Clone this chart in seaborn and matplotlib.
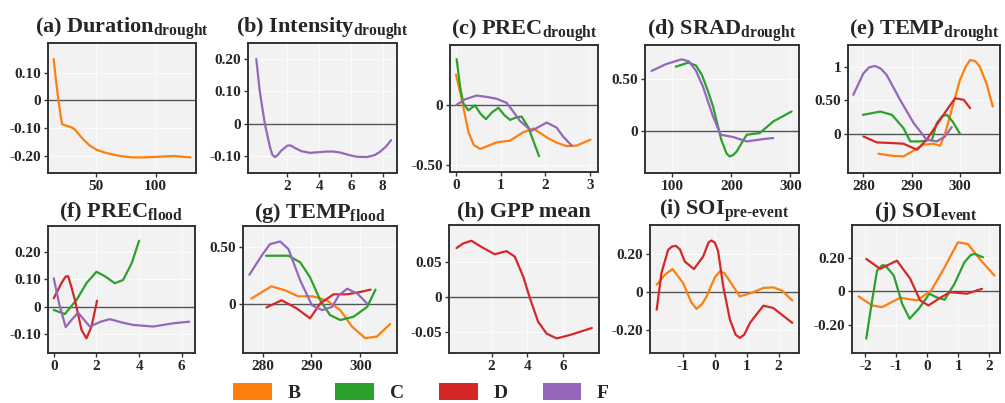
import matplotlib
matplotlib.use("Agg")
import matplotlib.pyplot as plt
from matplotlib.patches import Patch
import seaborn as sns

# ---- data (x, y per class) ----
# (a) Duration drought
dur_B_x = [15, 17, 19, 21, 22, 26, 30, 33, 36, 40, 45, 51, 57, 65, 72, 81, 90, 101, 115, 129]
dur_B_y = [0.148, 0.07, 0.0, -0.06, -0.085, -0.092, -0.097, -0.106, -0.122, -0.142, -0.162, -0.178, -0.187, -0.195, -0.201, -0.205, -0.205, -0.203, -0.200, -0.205]

# (b) Intensity drought
int_F_x = [0.05, 0.27, 0.59, 0.9, 1.05, 1.22, 1.4, 1.6, 2.0, 2.2, 2.48, 2.9, 3.43, 4.0, 4.48, 4.9, 5.33, 5.9, 6.38, 7.0, 7.5, 7.85, 8.2, 8.53]
int_F_y = [0.20, 0.10, 0.0, -0.069, -0.094, -0.102, -0.096, -0.083, -0.067, -0.066, -0.074, -0.084, -0.089, -0.087, -0.085, -0.085, -0.088, -0.096, -0.101, -0.102, -0.096, -0.085, -0.07, -0.05]

# (c) PREC drought
precd_B_x = [0.0, 0.13, 0.28, 0.4, 0.54, 0.7, 0.91, 1.21, 1.5, 1.73, 2.03, 2.25, 2.48, 2.7, 3.01]
precd_B_y = [0.256, 0.05, -0.225, -0.33, -0.363, -0.34, -0.308, -0.294, -0.225, -0.192, -0.266, -0.31, -0.34, -0.335, -0.286]
precd_C_x = [0.015, 0.09, 0.16, 0.275, 0.425, 0.55, 0.67, 0.8, 0.95, 1.08, 1.21, 1.35, 1.47, 1.62, 1.86]
precd_C_y = [0.385, 0.16, 0.02, -0.041, 0.0, -0.07, -0.115, -0.06, -0.02, -0.08, -0.121, -0.1, -0.093, -0.184, -0.423]
precd_F_x = [0.015, 0.2, 0.46, 0.7, 0.91, 1.13, 1.3, 1.43, 1.69, 1.85, 2.03, 2.25, 2.4, 2.59]
precd_F_y = [0.005, 0.05, 0.082, 0.07, 0.055, 0.022, -0.06, -0.129, -0.212, -0.18, -0.143, -0.184, -0.26, -0.335]

# (d) SRAD drought
srad_C_x = [106, 127, 140, 150, 160, 169, 183, 192, 197, 203, 209, 226, 248, 271, 302]
srad_C_y = [0.618, 0.657, 0.63, 0.54, 0.39, 0.234, -0.087, -0.22, -0.247, -0.235, -0.199, -0.038, -0.022, 0.09, 0.186]
srad_F_x = [65, 90, 116, 128, 140, 152, 169, 182, 203, 226, 254, 271]
srad_F_y = [0.577, 0.644, 0.689, 0.67, 0.58, 0.426, 0.138, -0.038, -0.06, -0.103, -0.08, -0.07]

# (e) TEMP drought
tempd_B_x = [283.1, 285.9, 288.3, 290.7, 292.4, 294.5, 295.9, 297.0, 297.9, 300.0, 301.2, 302.1, 303.2, 304.1, 305.5, 306.8]
tempd_B_y = [-0.297, -0.327, -0.337, -0.238, -0.163, -0.148, -0.178, 0.02, 0.257, 0.802, 1.0, 1.099, 1.08, 1.0, 0.75, 0.406]
tempd_C_x = [279.9, 283.5, 285.9, 288.3, 289.7, 291.7, 294.2, 295.2, 296.3, 297.3, 298.5, 300.0]
tempd_C_y = [0.282, 0.331, 0.282, 0.084, -0.114, -0.114, -0.089, 0.159, 0.26, 0.282, 0.18, 0.0]
tempd_D_x = [280.0, 282.8, 285.9, 288.3, 291.1, 293.1, 295.2, 297.3, 299.0, 300.8, 302.1]
tempd_D_y = [-0.04, -0.129, -0.138, -0.148, -0.238, -0.089, 0.134, 0.357, 0.53, 0.505, 0.382]
tempd_F_x = [277.9, 280.0, 281.2, 282.4, 283.6, 284.8, 287.6, 290.4, 293.1, 295.2, 296.9, 298.3]
tempd_F_y = [0.58, 0.9, 0.99, 1.01, 0.97, 0.877, 0.505, 0.16, -0.089, -0.114, -0.04, 0.1]

# (f) PREC flood
precf_C_x = [0.0, 0.52, 1.07, 1.53, 2.0, 2.39, 2.86, 3.25, 3.65, 4.0]
precf_C_y = [-0.012, -0.027, 0.025, 0.086, 0.128, 0.112, 0.086, 0.098, 0.159, 0.242]
precf_D_x = [0.0, 0.36, 0.55, 0.67, 0.8, 0.99, 1.3, 1.53, 1.77, 2.03]
precf_D_y = [0.031, 0.086, 0.11, 0.112, 0.08, 0.025, -0.085, -0.116, -0.073, 0.022]
precf_F_x = [0.0, 0.25, 0.56, 0.83, 1.14, 1.69, 2.2, 2.63, 3.2, 3.72, 4.66, 5.6, 6.35]
precf_F_y = [0.104, 0.012, -0.075, -0.049, -0.022, -0.073, -0.055, -0.046, -0.058, -0.067, -0.073, -0.061, -0.055]

# (g) TEMP flood
tempf_B_x = [277.7, 281.8, 284.6, 287.3, 290.3, 293.1, 295.9, 298.3, 301.0, 303.4, 306.1]
tempf_B_y = [0.044, 0.153, 0.118, 0.064, 0.064, 0.029, -0.059, -0.206, -0.309, -0.294, -0.182]
tempf_C_x = [280.7, 285.3, 287.7, 289.7, 291.8, 293.8, 295.9, 298.6, 301.4, 303.1]
tempf_C_y = [0.426, 0.426, 0.367, 0.235, 0.029, -0.103, -0.147, -0.118, -0.03, 0.124]
tempf_D_x = [280.8, 283.9, 287.0, 289.7, 291.8, 294.5, 297.3, 300.0, 302.1]
tempf_D_y = [-0.035, 0.029, -0.044, -0.132, 0.0, 0.082, 0.082, 0.103, 0.124]
tempf_F_x = [277.3, 279.8, 281.5, 283.6, 285.3, 287.7, 290.1, 292.2, 294.2, 295.6, 297.3, 299.4, 301.4]
tempf_F_y = [0.256, 0.426, 0.529, 0.553, 0.485, 0.206, -0.015, -0.059, -0.03, 0.073, 0.132, 0.088, 0.0]

# (h) GPP mean
gpp_D_x = [0.05, 0.41, 0.88, 1.44, 2.18, 2.84, 3.3, 3.77, 4.14, 4.6, 5.07, 5.63, 6.37, 7.59]
gpp_D_y = [0.0704, 0.077, 0.081, 0.072, 0.0615, 0.066, 0.058, 0.029, -0.002, -0.036, -0.053, -0.060, -0.055, -0.045]

# (i) SOI pre-event
soip_B_x = [-1.83, -1.57, -1.33, -1.0, -0.75, -0.58, -0.4, -0.26, 0.0, 0.16, 0.3, 0.47, 0.78, 1.15, 1.52, 1.83, 2.1, 2.43]
soip_B_y = [0.04, 0.093, 0.122, 0.049, -0.05, -0.087, -0.06, -0.021, 0.08, 0.11, 0.1, 0.058, -0.021, -0.003, 0.023, 0.026, 0.01, -0.043]
soip_D_x = [-1.83, -1.68, -1.47, -1.35, -1.23, -1.1, -0.95, -0.66, -0.37, -0.2, -0.11, 0.0, 0.10, 0.26, 0.47, 0.65, 0.78, 0.92, 1.1, 1.52, 1.83, 2.43]
soip_D_y = [-0.091, 0.101, 0.223, 0.24, 0.244, 0.225, 0.162, 0.122, 0.188, 0.262, 0.272, 0.26, 0.215, 0.031, -0.143, -0.222, -0.239, -0.222, -0.16, -0.07, -0.082, -0.16]

# (j) SOI event
soie_B_x = [-2.22, -1.78, -1.46, -0.87, -0.33, 0.13, 0.56, 0.99, 1.31, 1.74, 2.17]
soie_B_y = [-0.031, -0.085, -0.095, -0.039, -0.055, 0.004, 0.142, 0.291, 0.281, 0.182, 0.093]
soie_C_x = [-1.97, -1.78, -1.62, -1.45, -1.35, -1.08, -0.81, -0.57, -0.27, 0.07, 0.29, 0.56, 0.88, 1.2, 1.4, 1.53, 1.8]
soie_C_y = [-0.282, -0.055, 0.123, 0.155, 0.152, 0.093, -0.075, -0.164, -0.104, -0.015, -0.036, -0.051, 0.044, 0.172, 0.215, 0.222, 0.202]
soie_D_x = [-1.97, -1.52, -0.98, -0.55, -0.23, 0.04, 0.42, 0.74, 1.28, 1.77]
soie_D_y = [0.192, 0.133, 0.182, 0.074, -0.055, -0.085, -0.039, -0.006, -0.015, 0.014]

classes = ["B", "C", "D", "F"]
colors = {"B": "#ff7f0e", "C": "#2ca02c", "D": "#d62728", "F": "#9467bd"}

sns.set_theme(style="ticks")
plt.rcParams["font.family"] = ["Liberation Serif", "DejaVu Serif"]
plt.rcParams["font.weight"] = "bold"
plt.rcParams["mathtext.fontset"] = "custom"
plt.rcParams["mathtext.rm"] = "Liberation Serif"
plt.rcParams["mathtext.bf"] = "Liberation Serif:bold"

W, H = 1005, 403
fig = plt.figure(figsize=(W / 100, H / 100), dpi=100)


def px_axes(l, t, r, b):
    return fig.add_axes([l / W, 1 - b / H, (r - l) / W, (b - t) / H])


panels = [
    dict(rect=(48, 43, 196, 173), title=r"(a) Duration$_{\mathbf{drought}}$",
         lines={"B": (dur_B_x, dur_B_y)}, xlim=(10.3, 133.6), ylim=(-0.261, 0.206),
         xt=[50, 100], xl=["50", "100"], yt=[0.1, 0, -0.1, -0.2], yl=["0.10", "0", "-0.10", "-0.20"]),
    dict(rect=(248, 43, 397, 173), title=r"(b) Intensity$_{\mathbf{drought}}$",
         lines={"F": (int_F_x, int_F_y)}, xlim=(-0.47, 8.9), ylim=(-0.151, 0.249),
         xt=[2, 4, 6, 8], xl=["2", "4", "6", "8"], yt=[0.2, 0.1, 0, -0.1], yl=["0.20", "0.10", "0", "-0.10"]),
    dict(rect=(450, 45, 598, 172), title=r"(c) PREC$_{\mathbf{drought}}$",
         lines={"B": (precd_B_x, precd_B_y), "C": (precd_C_x, precd_C_y), "F": (precd_F_x, precd_F_y)},
         xlim=(-0.134, 3.18), ylim=(-0.555, 0.503),
         xt=[0, 1, 2, 3], xl=["0", "1", "2", "3"], yt=[0, -0.5], yl=["0", "-0.50"]),
    dict(rect=(645, 45, 799, 173), title=r"(d) SRAD$_{\mathbf{drought}}$",
         lines={"C": (srad_C_x, srad_C_y), "F": (srad_F_x, srad_F_y)},
         xlim=(53.9, 314.5), ylim=(-0.407, 0.827),
         xt=[100, 200, 300], xl=["100", "200", "300"], yt=[0.5, 0], yl=["0.50", "0"]),
    dict(rect=(848, 45, 1000, 173), title=r"(e) TEMP$_{\mathbf{drought}}$",
         lines={"B": (tempd_B_x, tempd_B_y), "C": (tempd_C_x, tempd_C_y),
                "D": (tempd_D_x, tempd_D_y), "F": (tempd_F_x, tempd_F_y)},
         xlim=(276.8, 308.3), ylim=(-0.584, 1.322),
         xt=[280, 290, 300], xl=["280", "290", "300"], yt=[1, 0.5, 0], yl=["1", "0.50", "0"]),
    dict(rect=(48, 226, 195, 353), title=r"(f) PREC$_{\mathbf{flood}}$",
         lines={"C": (precf_C_x, precf_C_y), "D": (precf_D_x, precf_D_y), "F": (precf_F_x, precf_F_y)},
         xlim=(-0.27, 6.62), ylim=(-0.17, 0.296),
         xt=[0, 2, 4, 6], xl=["0", "2", "4", "6"], yt=[0.2, 0.1, 0, -0.1], yl=["0.20", "0.10", "0", "-0.10"]),
    dict(rect=(243, 226, 397, 353), title=r"(g) TEMP$_{\mathbf{flood}}$",
         lines={"B": (tempf_B_x, tempf_B_y), "C": (tempf_C_x, tempf_C_y),
                "D": (tempf_D_x, tempf_D_y), "F": (tempf_F_x, tempf_F_y)},
         xlim=(276.0, 307.5), ylim=(-0.441, 0.691),
         xt=[280, 290, 300], xl=["280", "290", "300"], yt=[0.5, 0], yl=["0.50", "0"]),
    dict(rect=(449, 225, 599, 353), title="(h) GPP mean",
         lines={"D": (gpp_D_x, gpp_D_y)}, xlim=(-0.37, 7.99), ylim=(-0.081, 0.1037),
         xt=[2, 4, 6], xl=["2", "4", "6"], yt=[0.05, 0, -0.05], yl=["0.05", "0", "-0.05"]),
    dict(rect=(650, 225, 799, 353), title="(i) SOI$_{\\mathbf{pre\u2010event}}$",
         lines={"B": (soip_B_x, soip_B_y), "D": (soip_D_x, soip_D_y)},
         xlim=(-2.04, 2.64), ylim=(-0.318, 0.353),
         xt=[-1, 0, 1, 2], xl=["-1", "0", "1", "2"], yt=[0.2, 0, -0.2], yl=["0.20", "0", "-0.20"]),
    dict(rect=(852, 225, 1000, 353), title=r"(j) SOI$_{\mathbf{event}}$",
         lines={"B": (soie_B_x, soie_B_y), "C": (soie_C_x, soie_C_y), "D": (soie_D_x, soie_D_y)},
         xlim=(-2.43, 2.35), ylim=(-0.368, 0.394),
         xt=[-2, -1, 0, 1, 2], xl=["-2", "-1", "0", "1", "2"], yt=[0.2, 0, -0.2], yl=["0.20", "0", "-0.20"]),
]

for p in panels:
    ax = px_axes(*p["rect"])
    ax.set_facecolor("#f2f2f2")
    ax.grid(True, color="#fbfbfb", linewidth=0.8)
    ax.set_axisbelow(True)
    ax.axhline(0, color="#555555", linewidth=1.0, zorder=1)
    for cls in classes:
        if cls in p["lines"]:
            x, y = p["lines"][cls]
            sns.lineplot(x=x, y=y, ax=ax, color=colors[cls], linewidth=1.6, zorder=3)
    ax.set_xlim(*p["xlim"])
    ax.set_ylim(*p["ylim"])
    ax.set_xticks(p["xt"])
    ax.set_xticklabels(p["xl"])
    ax.set_yticks(p["yt"])
    ax.set_yticklabels(p["yl"])
    ax.set_xlabel("")
    ax.set_ylabel("")
    ax.tick_params(labelsize=11, length=3, width=1, color="#333333", pad=2)
    for lab in ax.get_xticklabels() + ax.get_yticklabels():
        lab.set_fontweight("bold")
    for s in ax.spines.values():
        s.set_color("#333333")
        s.set_linewidth(1.4)
    ax.set_title(p["title"], fontsize=16, fontweight="bold", pad=6)

handles = [Patch(facecolor=colors[c], edgecolor="none", label=c) for c in classes]
fig.legend(handles=handles, loc="upper left", bbox_to_anchor=(233 / W, 1 - 383 / H),
           ncol=4, frameon=False, borderpad=0, borderaxespad=0,
           handlelength=2.0, handleheight=1.0,
           handletextpad=0.8, columnspacing=1.8, prop={"weight": "bold", "size": 14})

fig.savefig("out.png", dpi=100)
